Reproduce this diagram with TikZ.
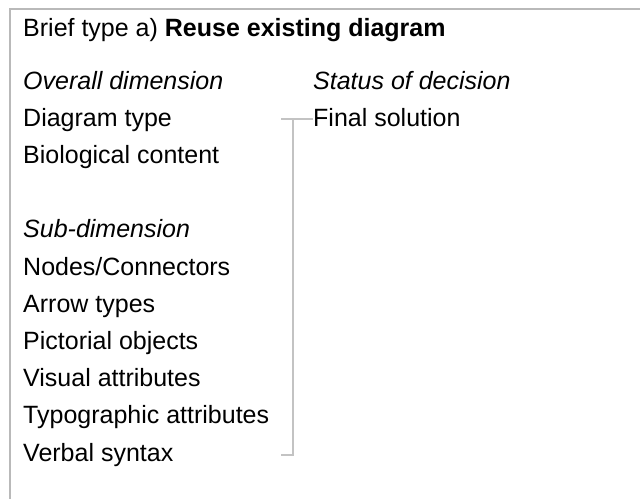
\documentclass[tikz,border=0pt]{standalone}
\usepackage{fontspec}
\setmainfont{Liberation Sans}
\begin{document}
\begin{tikzpicture}[x=1pt,y=-1pt,
  lbl/.style={anchor=base west,inner sep=0pt,font=\fontsize{25}{30}\selectfont},
  frame/.style={draw={rgb,255:red,185;green,185;blue,185},line width=1.5pt},
  brk/.style={draw={rgb,255:red,195;green,195;blue,195},line width=1.5pt}]
\useasboundingbox (0,0) rectangle (640,499);
\fill[white] (0,0) rectangle (640,499);
\draw[frame] (640,9) -- (10,9) -- (10,499);
\node[lbl] (title) at (23,36) {Brief type a) \textbf{Reuse existing diagram}};
\node[lbl] (od) at (23,89) {\itshape Overall dimension};
\node[lbl] (dt) at (23,126.5) {Diagram type};
\node[lbl] (bc) at (23,163.5) {Biological content};
\node[lbl] (sd) at (23,237.8) {\itshape Sub-dimension};
\node[lbl] (nc) at (23,275) {Nodes/Connectors};
\node[lbl] (at) at (23,312.2) {Arrow types};
\node[lbl] (po) at (23,349.4) {Pictorial objects};
\node[lbl] (va) at (23,386.6) {Visual attributes};
\node[lbl] (ta) at (23,423.8) {Typographic attributes};
\node[lbl] (vs) at (23,461) {Verbal syntax};
\node[lbl] (sod) at (313,89) {\itshape Status of decision};
\node[lbl] (fs) at (313,126.5) {Final solution};
\coordinate (t1) at (281,119);
\coordinate (t2) at (293,119);
\coordinate (b1) at (281,455);
\coordinate (b2) at (293,455);
\draw[brk] (t1) -- (fs.west |- t1);
\draw[brk] (t2) -- (b2) -- (b1);
\end{tikzpicture}
\end{document}
